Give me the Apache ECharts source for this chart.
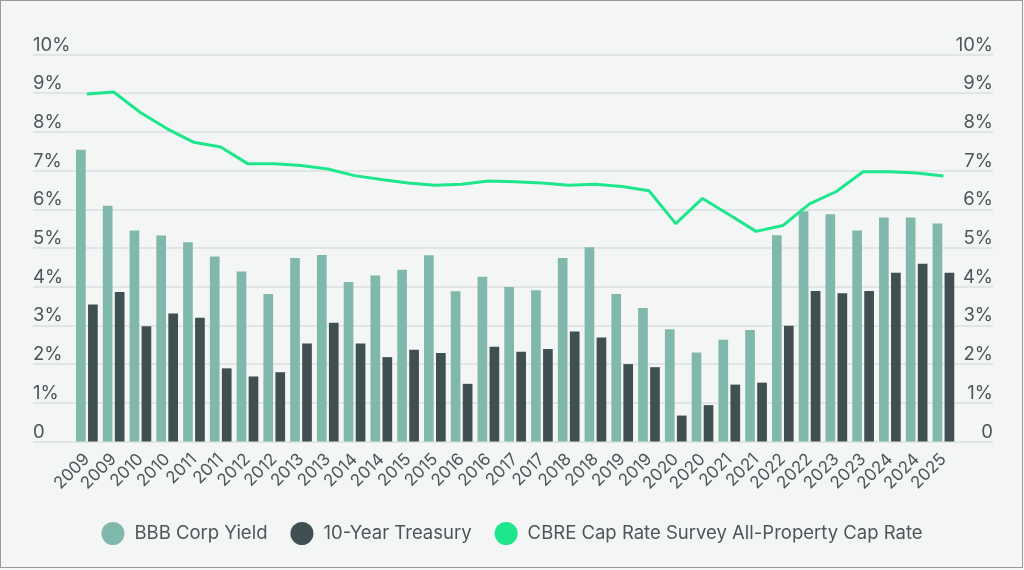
<!DOCTYPE html>
<html>
<head>
<meta charset="utf-8">
<script src="https://cdn.jsdelivr.net/npm/echarts@6/dist/echarts.min.js"></script>
<style>
  html, body { margin: 0; padding: 0; background: #f4f5f5; }
  #chart { width: 1024px; height: 570px; }
  #frame { position: absolute; left: 0; top: 0; width: 1023px; height: 568px; box-sizing: border-box; border: 1px solid #9a9a9a; pointer-events: none; }
</style>
</head>
<body>
<div id="chart"></div>
<div id="frame"></div>
<script>
const categories = ['2009','2009','2010','2010','2011','2011','2012','2012','2013','2013','2014','2014','2015','2015','2016','2016','2017','2017','2018','2018','2019','2019','2020','2020','2021','2021','2022','2022','2023','2023','2024','2024','2025'];
const bbbCorpYield = [7.54, 6.09, 5.45, 5.32, 5.15, 4.78, 4.39, 3.81, 4.74, 4.82, 4.12, 4.29, 4.44, 4.81, 3.88, 4.26, 3.99, 3.91, 4.74, 5.02, 3.81, 3.45, 2.90, 2.30, 2.63, 2.88, 5.33, 5.95, 5.87, 5.45, 5.79, 5.79, 5.63];
const treasury10y = [3.54, 3.86, 2.98, 3.31, 3.20, 1.89, 1.68, 1.79, 2.53, 3.07, 2.53, 2.18, 2.37, 2.29, 1.49, 2.45, 2.32, 2.39, 2.84, 2.69, 2.00, 1.92, 0.67, 0.94, 1.47, 1.52, 2.99, 3.89, 3.83, 3.89, 4.36, 4.59, 4.36];
const capRate = [8.98, 9.03, 8.50, 8.08, 7.73, 7.61, 7.18, 7.18, 7.13, 7.04, 6.87, 6.77, 6.68, 6.62, 6.65, 6.73, 6.71, 6.68, 6.62, 6.65, 6.59, 6.48, 5.63, 6.28, 5.86, 5.43, 5.58, 6.14, 6.46, 6.97, 6.97, 6.94, 6.86];
const seriesNames = ['BBB Corp Yield', '10-Year Treasury', 'CBRE Cap Rate Survey All-Property Cap Rate'];

const FONT = 'Inter';
const TXT = '#4b575a';
const fmt = v => v === 0 ? '0' : v + '%';

const chart = echarts.init(document.getElementById('chart'), null, { renderer: 'canvas' });
chart.setOption({
  backgroundColor: '#f4f5f5',
  animation: false,
  textStyle: { fontFamily: FONT },
  grid: [
    { left: 33, right: 31, top: 54.5, bottom: 128.5 },
    { left: 73.5, right: 67.2, top: 54.5, bottom: 128.5 }
  ],
  legend: {
    bottom: 20,
    left: 'center',
    icon: 'circle',
    itemWidth: 23,
    itemHeight: 23,
    itemGap: 23,
    textStyle: { fontSize: 18.5, color: TXT, fontFamily: FONT, padding: [0, 0, 0, 5] },
    data: seriesNames
  },
  xAxis: [
    { gridIndex: 0, type: 'value', show: false, min: 0, max: 1 },
    {
      gridIndex: 1, type: 'category', data: categories,
      axisLine: { show: false }, axisTick: { show: false },
      axisLabel: { rotate: 45, margin: 15, fontSize: 17, color: TXT, fontFamily: FONT, interval: 0, padding: [10, 0, 0, 0] }
    }
  ],
  yAxis: [
    {
      gridIndex: 0, type: 'value', min: 0, max: 10, interval: 1, position: 'left',
      axisLine: { show: false }, axisTick: { show: false },
      splitLine: { show: true, lineStyle: { color: '#dcdfdf', width: 1.5 } },
      axisLabel: { inside: true, align: 'left', verticalAlign: 'bottom', margin: 0, padding: [0, 0, 0, 0], fontSize: 18.5, color: TXT, fontFamily: FONT, formatter: fmt }
    },
    {
      gridIndex: 0, type: 'value', min: 0, max: 10, interval: 1, position: 'right',
      axisLine: { show: false }, axisTick: { show: false }, splitLine: { show: false },
      axisLabel: { inside: true, align: 'right', verticalAlign: 'bottom', margin: 0, padding: [0, 0, 0, 0], fontSize: 18.5, color: TXT, fontFamily: FONT, formatter: fmt }
    },
    { gridIndex: 1, type: 'value', min: 0, max: 10, interval: 1, show: false }
  ],
  series: [
    {
      name: seriesNames[0], type: 'bar', xAxisIndex: 1, yAxisIndex: 2,
      data: bbbCorpYield, barCategoryGap: '19%', barGap: '24%',
      itemStyle: { color: '#80b9ab' }
    },
    {
      name: seriesNames[1], type: 'bar', xAxisIndex: 1, yAxisIndex: 2,
      data: treasury10y, barCategoryGap: '19%', barGap: '24%',
      itemStyle: { color: '#3f4f52' }
    },
    {
      name: seriesNames[2], type: 'line', xAxisIndex: 1, yAxisIndex: 2,
      data: capRate, symbol: 'none', smooth: false,
      lineStyle: { color: '#1de68d', width: 3 },
      itemStyle: { color: '#1de68d' }
    }
  ]
});
</script>
</body>
</html>
